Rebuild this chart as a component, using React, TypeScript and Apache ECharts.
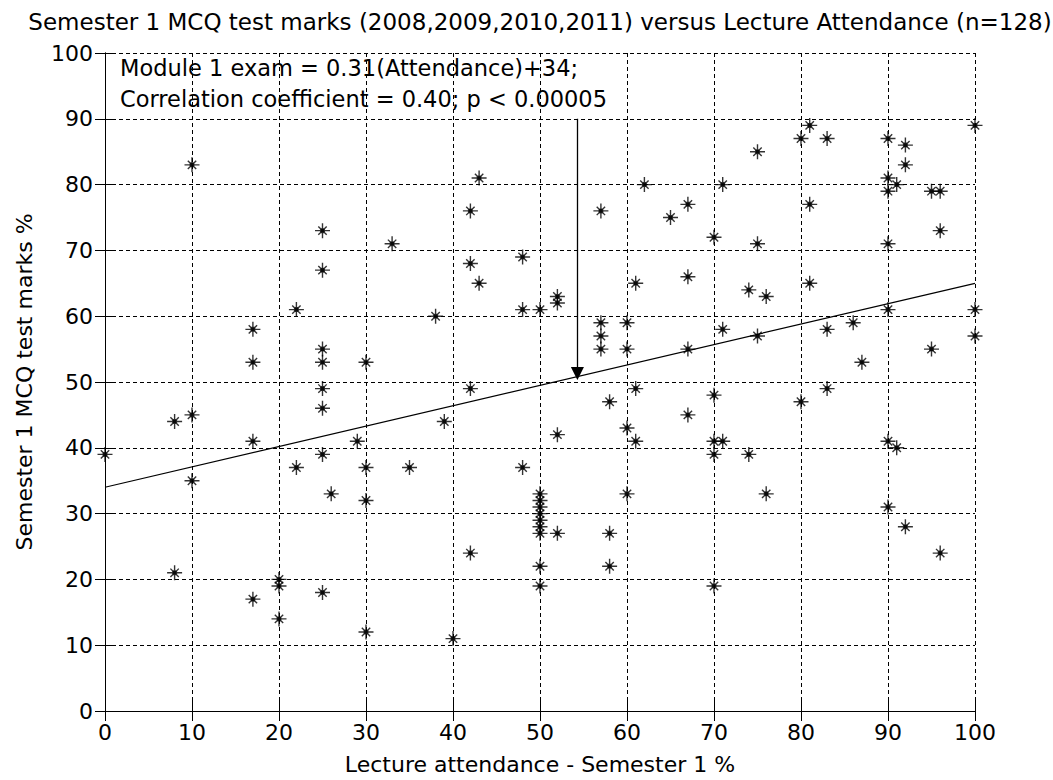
import React, { useEffect, useRef } from "react";
import * as echarts from "echarts";

const TITLE = "Semester 1 MCQ test marks (2008,2009,2010,2011) versus Lecture Attendance (n=128)";
const X_NAME = "Lecture attendance - Semester 1 %";
const Y_NAME = "Semester 1 MCQ test marks %";
const ANNOTATION = ["Module 1 exam = 0.31(Attendance)+34;", "Correlation coefficient = 0.40; p < 0.00005"];

const attendance = [0, 8, 8, 10, 10, 10, 17, 17, 17, 17, 20, 20, 20, 22, 22, 25, 25, 25, 25, 25, 25, 25, 25, 26, 29, 30, 30, 30, 30, 33, 35, 38, 39, 40, 42, 42, 42, 42, 43, 43, 48, 48, 48, 50, 50, 50, 50, 50, 50, 50, 50, 50, 50, 52, 52, 52, 52, 57, 57, 57, 57, 58, 58, 58, 60, 60, 60, 60, 61, 61, 61, 62, 65, 67, 67, 67, 67, 70, 70, 70, 70, 70, 71, 71, 71, 74, 74, 75, 75, 75, 76, 76, 80, 80, 81, 81, 81, 83, 83, 83, 86, 87, 90, 90, 90, 90, 90, 90, 90, 91, 91, 92, 92, 92, 95, 95, 96, 96, 96, 100, 100, 100];
const marks = [39, 44, 21, 83, 45, 35, 58, 53, 41, 17, 20, 19, 14, 61, 37, 73, 67, 55, 53, 49, 46, 39, 18, 33, 41, 53, 37, 32, 12, 71, 37, 60, 44, 11, 76, 68, 49, 24, 81, 65, 69, 61, 37, 61, 22, 19, 33, 32, 31, 30, 29, 28, 27, 63, 62, 42, 27, 76, 59, 57, 55, 47, 27, 22, 59, 55, 43, 33, 65, 49, 41, 80, 75, 77, 66, 55, 45, 72, 48, 41, 39, 19, 80, 58, 41, 64, 39, 85, 71, 57, 63, 33, 87, 47, 89, 77, 65, 87, 58, 49, 59, 53, 87, 81, 79, 71, 61, 41, 31, 80, 40, 86, 83, 28, 79, 55, 79, 73, 24, 89, 61, 57];

const SLOPE = 0.31;
const INTERCEPT = 34;
const X_RANGE = [0, 100];
const ARROW = [[54.3, 90], [54.3, 51.3]];

const FONT = "DejaVu Sans";
const STAR =
  "path://M0,-7.5L0,7.5M-7.5,0L7.5,0M-4.2,-4.2L4.2,4.2M-4.2,4.2L4.2,-4.2M-1.8,-1.8L1.8,-1.8L1.8,1.8L-1.8,1.8Z";

export default function App() {
  const ref = useRef<HTMLDivElement>(null);
  useEffect(() => {
    document.body.style.margin = "0";
    const chart = echarts.init(ref.current!, null, { renderer: "svg" });
    const points = attendance.map((x, i) => [x, marks[i]]);
    const fit = X_RANGE.map((x) => [x, SLOPE * x + INTERCEPT]);
    const grid = { left: 105, right: 78, top: 53, height: 659 };
    const gridLine = { show: true, lineStyle: { color: "#000", width: 1, type: [4, 3] as any } };
    const axisLine = { show: true, lineStyle: { color: "#000", width: 1 } };
    const tick = { show: true, inside: true, length: 10, lineStyle: { color: "#000" } };
    const label = { color: "#000", fontFamily: FONT, fontSize: 22 };
    chart.setOption({
      animation: false,
      backgroundColor: "#fff",
      title: {
        text: TITLE,
        left: 535,
        top: 5,
        textAlign: "center",
        textStyle: { fontFamily: FONT, fontSize: 23, fontWeight: "normal", color: "#000" },
      },
      grid,
      xAxis: [
        {
          type: "value", min: 0, max: 100, interval: 10,
          name: X_NAME, nameLocation: "middle", nameGap: 42,
          nameTextStyle: { ...label },
          axisLine, axisTick: tick, splitLine: gridLine,
          axisLabel: { ...label, margin: 10 },
        },
        {
          type: "value", min: 0, max: 100, interval: 10, position: "top",
          axisLine, axisTick: tick, splitLine: { show: false }, axisLabel: { show: false },
        },
      ],
      yAxis: [
        {
          type: "value", min: 0, max: 100, interval: 10,
          name: Y_NAME, nameLocation: "middle", nameGap: 70,
          nameTextStyle: { ...label },
          axisLine, axisTick: tick, splitLine: gridLine,
          axisLabel: { ...label, margin: 12 },
        },
        {
          type: "value", min: 0, max: 100, interval: 10, position: "right",
          axisLine, axisTick: tick, splitLine: { show: false }, axisLabel: { show: false },
        },
      ],
      series: [
        {
          type: "scatter",
          data: points,
          symbol: STAR,
          symbolSize: 15,
          itemStyle: { color: "#000", borderColor: "#000", borderWidth: 1.4 },
          z: 3,
        },
        {
          type: "line",
          data: fit,
          symbol: "none",
          lineStyle: { color: "#000", width: 1.2 },
          z: 2,
        },
        {
          type: "lines",
          coordinateSystem: "cartesian2d",
          data: [{ coords: ARROW }],
          symbol: ["none", "triangle"],
          symbolSize: [11, 13],
          lineStyle: { color: "#000", width: 1.3, opacity: 1, curveness: 0 },
          itemStyle: { color: "#000" },
          z: 4,
        },
      ],
      graphic: [
        {
          type: "text",
          left: 120,
          top: 52,
          style: {
            text: ANNOTATION.join("\n"),
            fontFamily: FONT,
            fontSize: 22.5,
            lineHeight: 31,
            fill: "#000",
          },
          z: 10,
        },
      ],
    });
    return () => chart.dispose();
  }, []);
  return <div ref={ref} style={{ width: 1053, height: 780 }} />;
}
